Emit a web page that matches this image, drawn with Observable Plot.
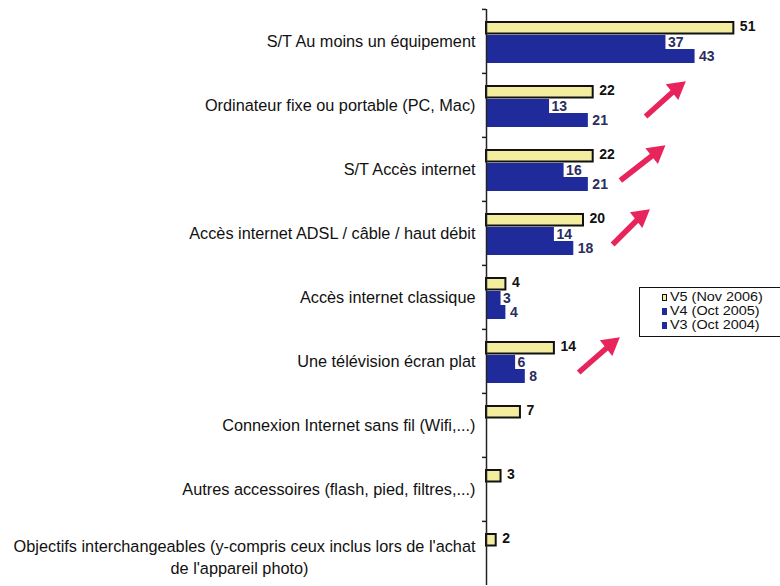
<!DOCTYPE html>
<html><head><meta charset="utf-8">
<script src="https://cdn.jsdelivr.net/npm/d3@7"></script>
<script src="https://cdn.jsdelivr.net/npm/@observablehq/plot@0.6"></script>
<style>
body{margin:0;background:#fff;font-family:"Liberation Sans",Arial,sans-serif}
#wrap{position:relative;width:780px;height:586px;overflow:hidden}
#legend{position:absolute;left:639px;top:287px;width:141px;height:50px;border:1.5px solid #111;border-right:none;box-sizing:border-box;padding:3px 0 0 22px;font-size:12px;line-height:13.8px;color:#111;background:#fff;white-space:nowrap}
#legend .sw{display:inline-block;width:5px;height:7px;margin-right:3px;box-sizing:border-box}
#legend .lab{display:inline-block;transform:scaleX(1.2);transform-origin:left center}
</style></head>
<body><div id="wrap"></div>
<script>
const categories = [
  "S/T Au moins un équipement",
  "Ordinateur fixe ou portable (PC, Mac)",
  "S/T Accès internet",
  "Accès internet ADSL / câble / haut débit",
  "Accès internet classique",
  "Une télévision écran plat",
  "Connexion Internet sans fil (Wifi,...)",
  "Autres accessoires (flash, pied, filtres,...)",
  "Objectifs interchangeables (y-compris ceux inclus lors de l'achat"
];
const categoryLine2 = ["", "", "", "", "", "", "", "", "de l'appareil photo)"];
const series = ["V5", "V4", "V3"];
const seriesLabels = ["V5 (Nov 2006)", "V4 (Oct 2005)", "V3 (Oct 2004)"];
const v5 = [51, 22, 22, 20, 4, 14, 7, 3, 2];
const v4 = [37, 13, 16, 14, 3, 6, null, null, null];
const v3 = [43, 21, 21, 18, 4, 8, null, null, null];
// rising-trend annotations (arrows): category and x extent in value units
const arrowCategories = [categories[1], categories[2], categories[3], categories[5]];
const arrowFrom = [32.8, 27.6, 26, 19];
const arrowTo = [39.2, 35, 31.8, 25.6];

const colors = {V5: "#f4ec9e", V4: "#1f2b9b", V3: "#1f2b9b"};

const rows = [];
categories.forEach((c, i) => {
  [v5, v4, v3].forEach((arr, j) => {
    if (arr[i] != null) rows.push({category: c, series: series[j], value: arr[i]});
  });
});
const arrows = arrowCategories.map((c, i) => ({category: c, from: arrowFrom[i], to: arrowTo[i]}));
const labels = categories.map((c, i) => ({category: c, line1: c, line2: categoryLine2[i]}));

const chart = Plot.plot({
  width: 780, height: 586,
  marginLeft: 486, marginRight: 3, marginTop: 8, marginBottom: 0,
  style: {fontFamily: "Liberation Sans, Arial, sans-serif", background: "#fff", overflow: "visible"},
  x: {domain: [0, 60], axis: null},
  y: {domain: series, axis: null, padding: 0, insetTop: 10.5, insetBottom: 9.5},
  fy: {domain: categories, axis: null, padding: 0, label: null},
  marks: [
    Plot.barX(rows.filter(d => d.series !== "V5"), {x: "value", y: "series", fy: "category", fill: d => colors[d.series]}),
    Plot.barX(rows.filter(d => d.series === "V5"), {x: "value", y: "series", fy: "category", fill: colors.V5, stroke: "#111", strokeWidth: 2, insetTop: 1, insetBottom: 1.5}),
    Plot.ruleX([0], {stroke: "#222", strokeWidth: 1.5}),
    Plot.axisFy({anchor: "left", text: null, label: null, tickSize: 4, dy: -32.1, stroke: "#222", strokeWidth: 1.5}),
    Plot.text(rows.filter(d => d.series === "V5"), {x: "value", y: "series", fy: "category", text: d => String(d.value), dx: 6, dy: -2, textAnchor: "start", fontWeight: "bold", fontSize: 14, fill: "#111"}),
    Plot.text(rows.filter(d => d.series === "V4"), {x: "value", y: "series", fy: "category", text: d => String(d.value), dx: 2, textAnchor: "start", fontWeight: "bold", fontSize: 14, fill: "#2a2d5e", stroke: "#fff", strokeWidth: 3}),
    Plot.text(rows.filter(d => d.series === "V3"), {x: "value", y: "series", fy: "category", text: d => String(d.value), dx: 4, textAnchor: "start", fontWeight: "bold", fontSize: 14, fill: "#2a2d5e"}),
    Plot.text(labels.filter(d => !d.line2), {fy: "category", text: "line1", frameAnchor: "left", textAnchor: "end", dx: -11, fontSize: 16.3, fill: "#111"}),
    Plot.text(labels.filter(d => d.line2), {fy: "category", text: "line1", frameAnchor: "left", textAnchor: "end", dx: -11, dy: -7, fontSize: 16.3, fill: "#111"}),
    Plot.text(labels.filter(d => d.line2), {fy: "category", text: "line2", frameAnchor: "left", textAnchor: "middle", dx: -247, dy: 15, fontSize: 16.3, fill: "#111"}),
    Plot.link(arrows, {x1: "from", x2: "to", y1: () => "V3", y2: () => "V5", fy: "category", stroke: "#e8245c", strokeWidth: 5.5, dy: -4}),
    Plot.dot(arrows, {x: "to", y: () => "V5", fy: "category", symbol: "triangle", r: 7.5, rotate: 52, fill: "#e8245c", dy: -4})
  ]
});

const wrap = document.getElementById("wrap");
wrap.appendChild(chart);
const legend = document.createElement("div");
legend.id = "legend";
seriesLabels.forEach((lab, i) => {
  const row = document.createElement("div");
  const sw = document.createElement("span");
  sw.className = "sw";
  sw.style.background = colors[series[i]];
  if (series[i] === "V5") sw.style.border = "1px solid #111";
  row.appendChild(sw);
  const t = document.createElement("span");
  t.className = "lab";
  t.textContent = lab;
  row.appendChild(t);
  legend.appendChild(row);
});
wrap.appendChild(legend);
</script>
</body></html>
